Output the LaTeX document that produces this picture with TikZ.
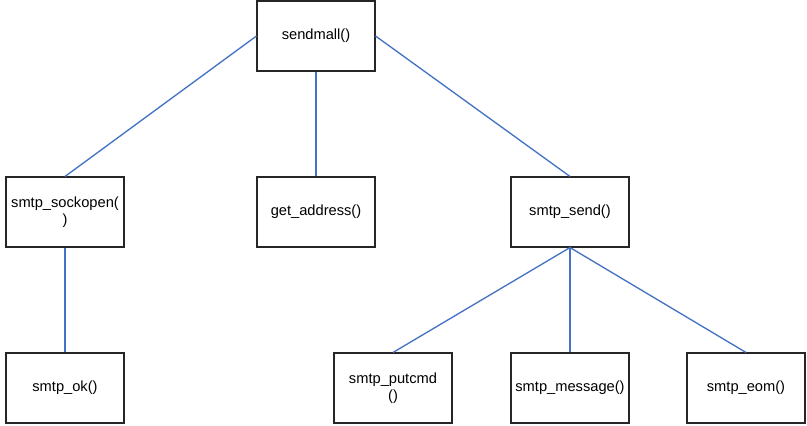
\documentclass[tikz,border=0pt]{standalone}
\usepackage{fontspec}
\setmainfont{Liberation Sans}
\usetikzlibrary{positioning}

\definecolor{linkblue}{RGB}{68,114,196}

\begin{document}
\begin{tikzpicture}[
  x=0.75pt, y=-0.75pt,
  box/.style={draw=black!85, line width=0.8pt, align=center, minimum width=88.5pt, minimum height=52.5pt, inner sep=2pt, font=\fontsize{11}{13}\selectfont},
  link/.style={draw=linkblue, line width=1pt}
]
\useasboundingbox (0,0) rectangle (807,425);

\node[box] (sendmail) at (316,36) {sendmall()};

\node[box] (sockopen) at (65,212) {smtp\_sockopen(\\)};
\node[box] (address) at (316,212) {get\_address()};
\node[box] (send) at (570,212) {smtp\_send()};

\node[box] (ok) at (65,388) {smtp\_ok()};
\node[box] (putcmd) at (393,388) {smtp\_putcmd\\()};
\node[box] (message) at (570,388) {smtp\_message()};
\node[box] (eom) at (746,388) {smtp\_eom()};

\draw[link] (sendmail.west) -- (sockopen.north);
\draw[link] (sendmail.south) -- (address.north);
\draw[link] (sendmail.east) -- (send.north);
\draw[link] (sockopen.south) -- (ok.north);
\draw[link] (send.south) -- (putcmd.north);
\draw[link] (send.south) -- (message.north);
\draw[link] (send.south) -- (eom.north);

\end{tikzpicture}
\end{document}
